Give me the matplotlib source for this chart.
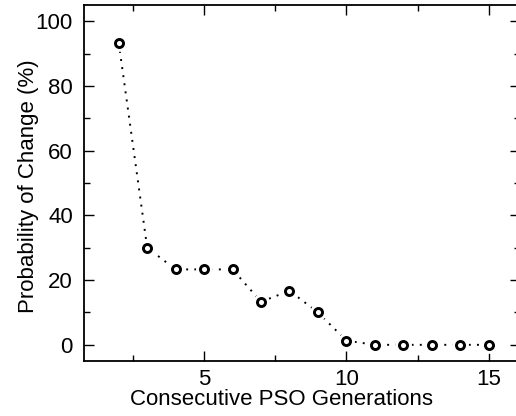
import matplotlib.pyplot as plt
from matplotlib.ticker import MultipleLocator

plt.rcParams["font.family"] = ["Liberation Sans", "DejaVu Sans"]

generations = [2, 3, 4, 5, 6, 7, 8, 9, 10, 11, 12, 13, 14, 15]
prob_change = [93.3, 30.0, 23.3, 23.3, 23.3, 13.3, 16.7, 10.0, 1.3, 0, 0, 0, 0, 0]

fig = plt.figure(figsize=(5.16, 4.16), dpi=100)
ax = fig.add_axes([0.1628, 0.1322, 0.845, 0.8558])

ax.plot(generations, prob_change, color="black", linestyle=(0, (1, 3.2)), linewidth=1.4, zorder=1)
# white halo so the dotted line stops short of each marker
ax.plot(generations, prob_change, linestyle="none", marker="o", markersize=11,
        markerfacecolor="white", markeredgecolor="white", zorder=2)
ax.plot(generations, prob_change, linestyle="none", marker="o", markersize=5.8,
        markerfacecolor="white", markeredgecolor="black", markeredgewidth=2.1, zorder=3)

ax.set_xlim(0.78, 16.1)
ax.set_ylim(-5, 105)
ax.xaxis.set_major_locator(MultipleLocator(5))
ax.xaxis.set_minor_locator(MultipleLocator(2.5))
ax.yaxis.set_major_locator(MultipleLocator(20))
ax.yaxis.set_minor_locator(MultipleLocator(10))
ax.tick_params(which="both", direction="in", top=True, right=True, width=1.0, labelsize=16)
ax.tick_params(which="major", length=7.5, pad=8)
ax.tick_params(axis="x", which="major", pad=6)
ax.tick_params(which="minor", length=4)
for spine in ax.spines.values():
    spine.set_linewidth(1.3)

ax.set_xlabel("Consecutive PSO Generations", fontsize=16)
ax.set_ylabel("Probability of Change (%)", fontsize=16)
ax.xaxis.set_label_coords(0.452, -0.08)
ax.yaxis.set_label_coords(-0.103, 0.49)

fig.savefig("out.png", dpi=100)
